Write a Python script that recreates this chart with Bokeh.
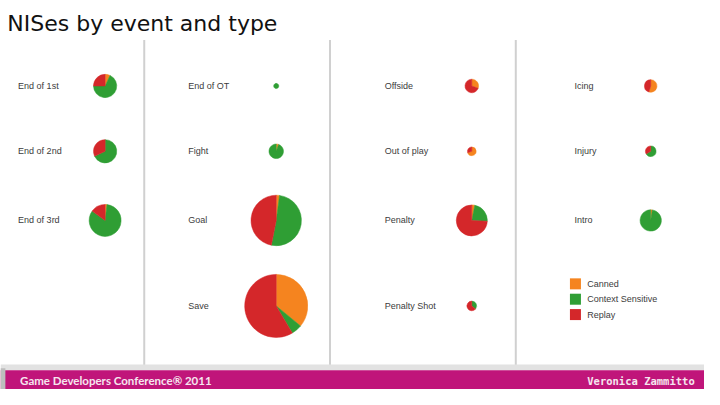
import numpy as np
from bokeh.plotting import figure
from bokeh.models import Range1d, ColumnDataSource
from bokeh.core.properties import value
from bokeh.embed import file_html
from bokeh.resources import INLINE

# ---------------- data ----------------
title = "NISes by event and type"
events = ["End of 1st", "End of 2nd", "End of 3rd",
          "End of OT", "Fight", "Goal", "Save",
          "Offside", "Out of play", "Penalty", "Penalty Shot",
          "Icing", "Injury", "Intro"]
panel = [0, 0, 0, 1, 1, 1, 1, 2, 2, 2, 2, 3, 3, 3]
row = [0, 1, 2, 0, 1, 2, 3, 0, 1, 2, 3, 0, 1, 2]
canned = [10, 0, 5, 0, 3, 14, 380, 15, 14, 8, 0, 23, 0, 3]
context = [98, 98, 226, 7, 53, 345, 58, 0, 0, 58, 9, 0, 20, 118]
replay = [36, 46, 41, 0, 0, 317, 618, 34, 6, 190, 16, 19, 10, 0]
types = ["Canned", "Context Sensitive", "Replay"]
colors = ["#f5841f", "#2f9e34", "#d4272a"]
footer_left = "Game Developers Conference\u00ae 2011"
footer_right = "Veronica Zammitto"

# ---------------- layout (reference pixel space, y downward) ----------------
W, H = 720, 405
label_x = [18, 192, 393, 587]
pie_x = [107, 282, 482, 665]
row_y = [89, 157, 229, 318]
sep_x = [147, 337, 527]


def Y(v):
    return H - np.asarray(v, dtype=float)


p = figure(width=704, height=389, output_backend="svg", toolbar_location=None,
           x_range=Range1d(0, W), y_range=Range1d(0, H),
           min_border=0, background_fill_color="white")
p.axis.visible = False
p.grid.visible = False
p.outline_line_color = None

# separators
p.segment(x0=sep_x, y0=Y([41] * 3), x1=sep_x, y1=Y([381] * 3),
          line_color="#d0d0d0", line_width=2)

# title
p.text(x=[7], y=Y([24]), text=[title], text_font=value("DejaVu Sans"),
       text_font_size="22px", text_color="#111111", text_baseline="middle")

# event labels
lx = [label_x[c] for c in panel]
ly = Y([row_y[r] for r in row])
p.text(x=lx, y=ly, text=events, text_font=value("Liberation Sans"),
       text_font_size="9px", text_color="#3c3c3c", text_baseline="middle")

# pies
vals = np.array([canned, context, replay], dtype=float).T
tot = vals.sum(axis=1)
cum = np.hstack([np.zeros((len(events), 1)), np.cumsum(vals, axis=1)]) / tot[:, None]
radius = np.sqrt(tot) * 0.97
wx, wy, wr, ws, we, wc = [], [], [], [], [], []
for i in range(len(events)):
    for k in range(3):
        if vals[i, k] <= 0:
            continue
        s = np.pi / 2 - 2 * np.pi * cum[i, k]
        e = np.pi / 2 - 2 * np.pi * cum[i, k + 1]
        if s - e > 2 * np.pi - 1e-3:
            e = s - 2 * np.pi + 1e-3
        wx.append(pie_x[panel[i]])
        wy.append(float(Y(row_y[row[i]])))
        wr.append(radius[i])
        ws.append(s)
        we.append(e)
        wc.append(colors[k])
src = ColumnDataSource(dict(x=wx, y=wy, r=wr, s=ws, e=we, c=wc))
p.wedge(x="x", y="y", radius="r", radius_units="screen", start_angle="s",
        end_angle="e", direction="clock", fill_color="c", line_color="c",
        line_width=0.5, source=src)

# legend
leg_y = [295, 311, 327]
p.rect(x=[588] * 3, y=Y(leg_y), width=11, height=11, width_units="screen",
       height_units="screen", fill_color=colors, line_color=None)
p.text(x=[600] * 3, y=Y(leg_y), text=types, text_font=value("Liberation Sans"),
       text_font_size="9px", text_color="#3c3c3c", text_baseline="middle")

# footer
p.quad(left=[0], right=[W], bottom=Y([385]), top=Y([379]), fill_color="#e2e2e2",
       line_color=None)
p.quad(left=[0], right=[W], bottom=Y([H]), top=Y([385]), fill_color="#c0157a",
       line_color=None)
p.quad(left=[0], right=[5], bottom=Y([H]), top=Y([383]), fill_color="#bdbdbd",
       line_color=None)
p.text(x=[20], y=Y([396]), text=[footer_left], text_font=value("Lato"),
       text_font_style="bold", text_font_size="11.5px", text_color="#f6e6ef",
       text_baseline="middle")
p.text(x=[710], y=Y([396]), text=[footer_right], text_font=value("DejaVu Sans Mono"),
       text_font_style="bold", text_font_size="10.5px", text_color="#f6e6ef",
       text_baseline="middle", text_align="right")

open("out.html", "w").write(file_html(p, INLINE))
